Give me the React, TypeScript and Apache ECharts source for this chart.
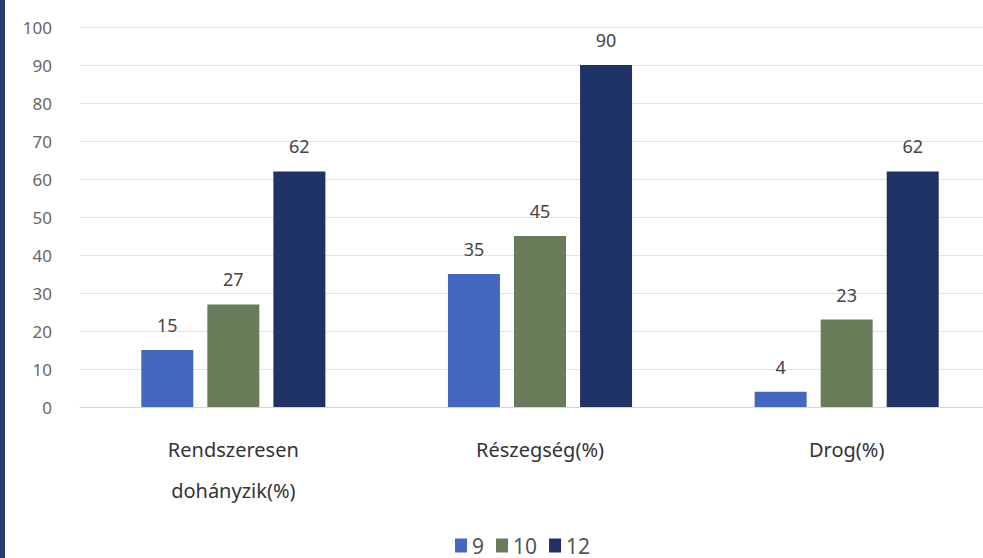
import React, { useEffect, useRef } from "react";
import * as echarts from "echarts";

const categories = ["Rendszeresen\ndohányzik(%)", "Részegség(%)", "Drog(%)"];
const seriesNames = ["9", "10", "12"];
const values9 = [15, 35, 4];
const values10 = [27, 45, 23];
const values12 = [62, 90, 62];
const colors = ["#4468bf", "#687c5a", "#1f3266"];

export default function App() {
  const ref = useRef<HTMLDivElement>(null);
  useEffect(() => {
    document.body.style.margin = "0";
    document.body.style.overflow = "hidden";
    const chart = echarts.init(ref.current!, null, { renderer: "svg" });
    const font = "'Noto Sans', 'Open Sans', sans-serif";
    const dataSets = [values9, values10, values12];
    chart.setOption({
      animation: false,
      backgroundColor: "#ffffff",
      graphic: [
        { type: "rect", left: 0, top: 0, shape: { x: 0, y: 0, width: 5, height: 558 }, style: { fill: "#2b3a6e" } },
      ],
      grid: { left: 80, right: 10, top: 27, bottom: 151, containLabel: false },
      legend: {
        bottom: -3,
        left: 450,
        itemWidth: 12,
        itemHeight: 14,
        itemGap: 12,
        icon: "rect",
        textStyle: { fontSize: 21, color: "#555", fontFamily: font },
        data: seriesNames,
      },
      xAxis: {
        type: "category",
        data: categories,
        axisLine: { lineStyle: { color: "#d4d4d4" } },
        axisTick: { show: false },
        axisLabel: {
          color: "#333",
          fontSize: 20,
          lineHeight: 41,
          margin: 22,
          fontFamily: font,
        },
      },
      yAxis: {
        type: "value",
        min: 0,
        max: 100,
        interval: 10,
        axisLine: { show: false },
        axisTick: { show: false },
        splitLine: { lineStyle: { color: "#e2e2e2" } },
        axisLabel: { color: "#666", fontSize: 17, margin: 28, fontFamily: font },
      },
      series: dataSets.map((d, i) => ({
        name: seriesNames[i],
        type: "bar",
        data: d,
        barWidth: 52,
        barGap: "27%",
        itemStyle: { color: colors[i] },
        label: {
          show: true,
          position: "top",
          distance: 16,
          color: "#444",
          fontSize: 18,
          fontFamily: font,
        },
      })),
    });
    return () => chart.dispose();
  }, []);
  return <div ref={ref} style={{ width: 1010, height: 558 }} />;
}
